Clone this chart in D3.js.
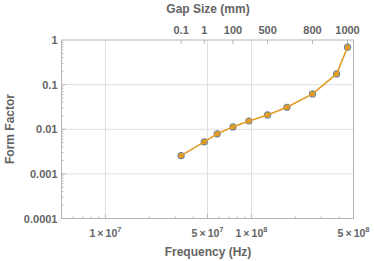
<!DOCTYPE html>
<html><head><meta charset="utf-8">
<script src="https://cdn.jsdelivr.net/npm/d3@7"></script>
<style>body{margin:0;background:#fff}text{font-family:"Liberation Sans",Arial,sans-serif;font-weight:bold;fill:#646464}</style>
</head><body><svg id="c" width="374" height="261"></svg>
<script>
const freq = [3.3e7, 4.75e7, 5.83e7, 7.47e7, 9.6e7, 1.29e8, 1.75e8, 2.62e8, 3.83e8, 4.55e8];
const formFactor = [0.00256, 0.0052, 0.0079, 0.0113, 0.0153, 0.0209, 0.0311, 0.0618, 0.174, 0.69];
const gapLabels = ["0.1", "1", "100", "500", "800", "1000"];
const gapFreq = [3.3e7, 4.75e7, 7.47e7, 1.29e8, 2.62e8, 4.55e8];
const xTickMant = [1, 5, 1, 5];
const xTickExp = [7, 7, 8, 8];
const yTicks = [1, 0.1, 0.01, 0.001, 0.0001];
const yTickLabels = ["1", "0.1", "0.01", "0.001", "0.0001"];

const svg = d3.select("#c");
const L = 61.5, R = 353.5, T = 40, B = 218.5;
const x = d3.scaleLog().domain([5e6, 5e8]).range([L, R]);
const y = d3.scaleLog().domain([1e-4, 1]).range([B, T]);
const xTicks = xTickMant.map((m, i) => m * Math.pow(10, xTickExp[i]));

// gridlines
svg.append("g").selectAll("line").data(xTicks).join("line")
  .attr("x1", d => x(d)).attr("x2", d => x(d)).attr("y1", T).attr("y2", B)
  .attr("stroke", "#e0e0e0").attr("stroke-width", 1);
svg.append("g").selectAll("line").data(yTicks.slice(1, 4)).join("line")
  .attr("y1", d => y(d)).attr("y2", d => y(d)).attr("x1", L).attr("x2", R)
  .attr("stroke", "#e0e0e0").attr("stroke-width", 1);

// frame
svg.append("rect").attr("x", L).attr("y", T).attr("width", R - L).attr("height", B - T)
  .attr("fill", "none").attr("stroke", "#b5b5b5").attr("stroke-width", 1);

// bottom ticks (major + minor)
const minorX = [];
for (let e = 6; e <= 8; e++) for (let m = 1; m <= 9; m++) { const v = m * Math.pow(10, e); if (v >= 5e6 && v <= 5e8) minorX.push(v); }
svg.append("g").selectAll("line").data(minorX).join("line")
  .attr("x1", d => x(d)).attr("x2", d => x(d)).attr("y1", B).attr("y2", d => B - (xTicks.includes(d) ? 4 : 2))
  .attr("stroke", "#b5b5b5");
const minorY = [];
for (let e = -4; e < 0; e++) for (let m = 1; m <= 9; m++) minorY.push(m * Math.pow(10, e));
svg.append("g").selectAll("line").data(minorY).join("line")
  .attr("y1", d => y(d)).attr("y2", d => y(d)).attr("x1", L).attr("x2", (d, i) => L + (i % 9 === 0 ? 4 : 2))
  .attr("stroke", "#b5b5b5");
// top ticks
svg.append("g").selectAll("line").data(gapFreq).join("line")
  .attr("x1", d => x(d)).attr("x2", d => x(d)).attr("y1", T).attr("y2", T + 4)
  .attr("stroke", "#b5b5b5");

// bottom tick labels
const xl = svg.append("g").selectAll("text").data(xTicks).join("text")
  .attr("x", d => x(d)).attr("y", 236.5).attr("text-anchor", "middle").attr("font-size", 10.5);
xl.append("tspan").text((d, i) => xTickMant[i] + "\u2009\u00d7\u200910");
xl.append("tspan").attr("dy", -4.5).attr("font-size", 7.5).text((d, i) => xTickExp[i]);

// y tick labels
svg.append("g").selectAll("text").data(yTicks).join("text")
  .attr("x", L - 4).attr("y", d => y(d) + 4).attr("text-anchor", "end").attr("font-size", 11)
  .text((d, i) => yTickLabels[i]);

// top tick labels
svg.append("g").selectAll("text").data(gapFreq).join("text")
  .attr("x", d => x(d)).attr("y", 33.5).attr("text-anchor", "middle").attr("font-size", 11)
  .text((d, i) => gapLabels[i]);

// axis titles
svg.append("text").attr("x", 208).attr("y", 256).attr("text-anchor", "middle").attr("font-size", 12).text("Frequency (Hz)");
svg.append("text").attr("x", 208).attr("y", 13).attr("text-anchor", "middle").attr("font-size", 12).text("Gap Size (mm)");
svg.append("text").attr("transform", "translate(14,129) rotate(-90)").attr("text-anchor", "middle").attr("font-size", 12).text("Form Factor");

// data
const pts = freq.map((f, i) => [f, formFactor[i]]);
svg.append("g").selectAll("circle").data(pts).join("circle")
  .attr("cx", d => x(d[0])).attr("cy", d => y(d[1])).attr("r", 3.6).attr("fill", "#5e81b5");
svg.append("path").datum(pts)
  .attr("d", d3.line().x(d => x(d[0])).y(d => y(d[1])))
  .attr("fill", "none").attr("stroke", "#e19c24").attr("stroke-width", 1.6);
svg.append("g").selectAll("rect").data(pts).join("rect")
  .attr("x", d => x(d[0]) - 2.5).attr("y", d => y(d[1]) - 2.5).attr("width", 5).attr("height", 5).attr("fill", "#e19c24");
</script></body></html>
